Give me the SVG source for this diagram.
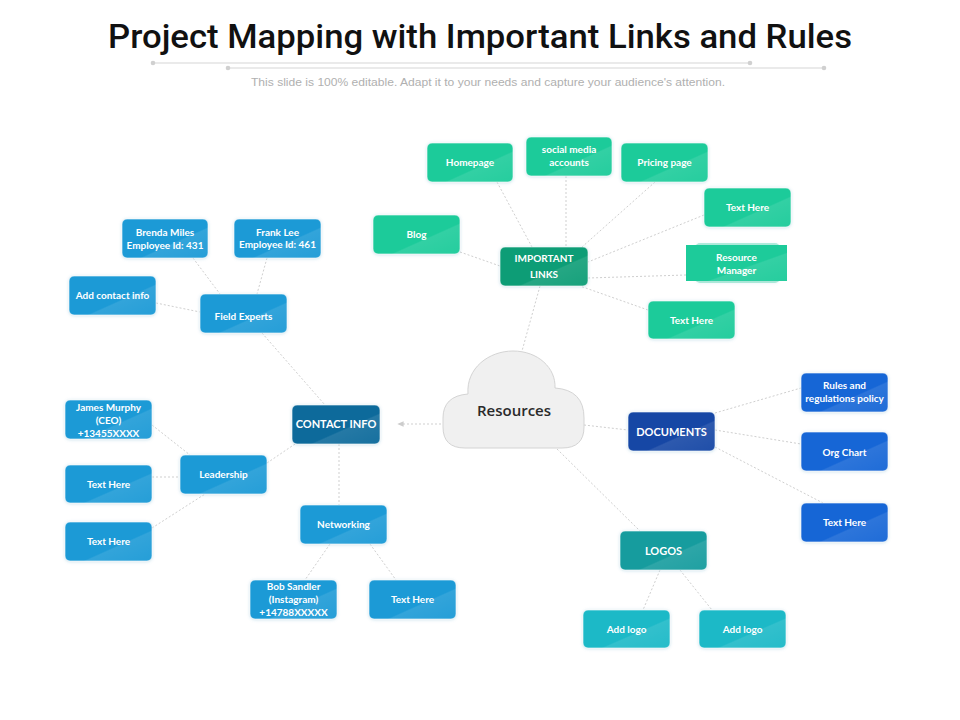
<svg xmlns="http://www.w3.org/2000/svg" width="960" height="720" viewBox="0 0 960 720">
<defs>
<linearGradient id="gloss" x1="0" y1="0" x2="1" y2="1">
<stop offset="0" stop-color="#fff" stop-opacity="0"/>
<stop offset="0.6" stop-color="#fff" stop-opacity="0"/>
<stop offset="0.62" stop-color="#fff" stop-opacity="0.1"/>
<stop offset="1" stop-color="#fff" stop-opacity="0.04"/>
</linearGradient>
<filter id="glow" x="-20%" y="-30%" width="140%" height="160%">
<feDropShadow dx="0" dy="0.5" stdDeviation="1.6" flood-color="#7fb8d0" flood-opacity="0.45"/>
</filter>
<marker id="arr" viewBox="0 0 10 10" refX="8" refY="5" markerWidth="7" markerHeight="7" orient="auto">
<path d="M0,1 L9,5 L0,9 Z" fill="#cccccc"/>
</marker>
<style>
.title{font-family:"Roboto","Liberation Sans",sans-serif;font-weight:500;font-size:34px;fill:#111;}
.sub{font-family:"Liberation Sans",Arial,sans-serif;font-size:11px;fill:#b0b0b0;}
.conn{stroke:#cfcfcf;stroke-width:1;stroke-dasharray:2 2;fill:none;}
.box{filter:url(#glow);stroke:#ffffff;stroke-opacity:0.6;stroke-width:1;}
.gl{fill:url(#gloss);}
.t{font-family:"Lato","Liberation Sans",sans-serif;font-weight:bold;font-size:10px;fill:#fff;text-anchor:middle;}
.tb{font-size:11px;}
.green{fill:#1dcb9a;}
.dgreen{fill:#0f9d76;}
.blue{fill:#1c9ad6;}
.dblue{fill:#0e6b9b;}
.navy{fill:#1347a5;}
.rblue{fill:#1766d6;}
.teal{fill:#149c9e;}
.cyan{fill:#1ab9c7;}
</style>
</defs>
<rect width="960" height="720" fill="#ffffff"/>

<g id="header">
<text class="title" x="480" y="48" text-anchor="middle" textLength="744" lengthAdjust="spacingAndGlyphs">Project Mapping with Important Links and Rules</text>
<line x1="153" y1="63" x2="750" y2="63" stroke="#d6d6d6" stroke-width="1.2"/>
<circle cx="153" cy="63" r="2.3" fill="#d0d0d0"/>
<circle cx="750" cy="63" r="2.3" fill="#d0d0d0"/>
<line x1="228" y1="68" x2="824" y2="68" stroke="#d6d6d6" stroke-width="1.2"/>
<circle cx="228" cy="68" r="2.3" fill="#d0d0d0"/>
<circle cx="824" cy="68" r="2.3" fill="#d0d0d0"/>
<text class="sub" x="488" y="86" text-anchor="middle" textLength="474" lengthAdjust="spacingAndGlyphs">This slide is 100% editable. Adapt it to your needs and capture your audience's attention.</text>
</g>

<g id="connectors">
<line class="conn" x1="497" y1="182" x2="532" y2="247"/>
<line class="conn" x1="566" y1="176" x2="566" y2="247"/>
<line class="conn" x1="655" y1="182" x2="582" y2="247"/>
<line class="conn" x1="704" y1="215" x2="588" y2="262"/>
<line class="conn" x1="686" y1="275" x2="588" y2="278"/>
<line class="conn" x1="648" y1="310" x2="580" y2="286"/>
<line class="conn" x1="460" y1="252" x2="500" y2="266"/>
<line class="conn" x1="540" y1="286" x2="522" y2="351"/>
<line class="conn" x1="193" y1="258" x2="220" y2="294"/>
<line class="conn" x1="267" y1="258" x2="257" y2="294"/>
<line class="conn" x1="156" y1="303" x2="200" y2="312"/>
<line class="conn" x1="262" y1="333" x2="325" y2="405"/>
<line class="conn" x1="152" y1="425" x2="190" y2="455"/>
<line class="conn" x1="152" y1="477" x2="180" y2="477"/>
<line class="conn" x1="152" y1="528" x2="205" y2="494"/>
<line class="conn" x1="267" y1="463" x2="295" y2="444"/>
<line class="conn" x1="339" y1="444" x2="339" y2="505"/>
<line class="conn" x1="330" y1="544" x2="305" y2="580"/>
<line class="conn" x1="370" y1="544" x2="396" y2="580"/>
<line class="conn" x1="445" y1="424" x2="398" y2="424" marker-end="url(#arr)"/>
<line class="conn" x1="584" y1="425" x2="628" y2="430"/>
<line class="conn" x1="715" y1="413" x2="801" y2="388"/>
<line class="conn" x1="715" y1="430" x2="801" y2="444"/>
<line class="conn" x1="715" y1="447" x2="823" y2="503"/>
<line class="conn" x1="557" y1="449" x2="640" y2="531"/>
<line class="conn" x1="660" y1="570" x2="643" y2="610"/>
<line class="conn" x1="680" y1="570" x2="712" y2="610"/>
</g>

<g id="resources">
<path d="M465 448 Q443 448 443 427 L443 418 Q443 396 468 394 C466 368 489 351 513 351 C538 351 556 368 555 388 Q584 390 584 418 L584 427 Q584 448 562 448 Z" fill="#f0f0f0" stroke="#d4d4d4" stroke-width="1"/>
<text x="514" y="416" text-anchor="middle" font-family="'Open Sans','Liberation Sans',sans-serif" font-weight="600" font-size="15" fill="#2a2a2a">Resources</text>
</g>

<g id="important-links">
<rect class="box dgreen" x="500" y="247" width="88" height="39" rx="5"/>
<rect class="gl" x="500" y="247" width="88" height="39" rx="5"/>
<text class="t" x="544" y="262" font-size="10.5">IMPORTANT</text>
<text class="t" x="544" y="278" font-size="10.5">LINKS</text>
</g>
<g id="homepage">
<rect class="box green" x="427" y="143" width="86" height="39" rx="5"/>
<rect class="gl" x="427" y="143" width="86" height="39" rx="5"/>
<text class="t" x="470" y="166">Homepage</text>
</g>
<g id="social-media">
<rect class="box green" x="526" y="137" width="86" height="39" rx="5"/>
<rect class="gl" x="526" y="137" width="86" height="39" rx="5"/>
<text class="t" x="569" y="153">social media</text>
<text class="t" x="569" y="166">accounts</text>
</g>
<g id="pricing-page">
<rect class="box green" x="621" y="143" width="87" height="39" rx="5"/>
<rect class="gl" x="621" y="143" width="87" height="39" rx="5"/>
<text class="t" x="664.5" y="166">Pricing page</text>
</g>
<g id="text-here-g1">
<rect class="box green" x="704" y="188" width="87" height="39" rx="5"/>
<rect class="gl" x="704" y="188" width="87" height="39" rx="5"/>
<text class="t" x="747.5" y="211">Text Here</text>
</g>
<g id="blog">
<rect class="box green" x="373" y="215" width="87" height="39" rx="5"/>
<rect class="gl" x="373" y="215" width="87" height="39" rx="5"/>
<text class="t" x="416.5" y="238">Blog</text>
</g>
<g id="resource-manager">
<rect x="695" y="243" width="85" height="40" rx="5" fill="#1dcb9a" fill-opacity="0.35" filter="url(#glow)"/>
<rect class="green" x="686" y="245" width="101" height="36"/>
<rect class="gl" x="686" y="245" width="101" height="36"/>
<text class="t" x="736.5" y="261" font-weight="normal">Resource</text>
<text class="t" x="736.5" y="274" font-weight="normal">Manager</text>
</g>
<g id="text-here-g2">
<rect class="box green" x="648" y="301" width="87" height="38" rx="5"/>
<rect class="gl" x="648" y="301" width="87" height="38" rx="5"/>
<text class="t" x="691.5" y="324">Text Here</text>
</g>

<g id="contact-info">
<rect class="box dblue" x="292" y="405" width="88" height="39" rx="5"/>
<rect class="gl" x="292" y="405" width="88" height="39" rx="5"/>
<text class="t tb" x="336" y="428">CONTACT INFO</text>
</g>
<g id="field-experts">
<rect class="box blue" x="200" y="294" width="87" height="39" rx="5"/>
<rect class="gl" x="200" y="294" width="87" height="39" rx="5"/>
<text class="t" x="243.5" y="320">Field Experts</text>
</g>
<g id="brenda-miles">
<rect class="box blue" x="122" y="219" width="86" height="39" rx="5"/>
<rect class="gl" x="122" y="219" width="86" height="39" rx="5"/>
<text class="t" x="165" y="236">Brenda Miles</text>
<text class="t" x="165" y="248.5">Employee Id: 431</text>
</g>
<g id="frank-lee">
<rect class="box blue" x="234" y="219" width="87" height="39" rx="5"/>
<rect class="gl" x="234" y="219" width="87" height="39" rx="5"/>
<text class="t" x="277.5" y="235.5">Frank Lee</text>
<text class="t" x="277.5" y="248">Employee Id: 461</text>
</g>
<g id="add-contact-info">
<rect class="box blue" x="69" y="276" width="87" height="39" rx="5"/>
<rect class="gl" x="69" y="276" width="87" height="39" rx="5"/>
<text class="t" x="112.5" y="299">Add contact info</text>
</g>
<g id="leadership">
<rect class="box blue" x="180" y="455" width="87" height="39" rx="5"/>
<rect class="gl" x="180" y="455" width="87" height="39" rx="5"/>
<text class="t" x="223.5" y="478">Leadership</text>
</g>
<g id="james-murphy">
<rect class="box blue" x="65" y="400" width="87" height="39" rx="5"/>
<rect class="gl" x="65" y="400" width="87" height="39" rx="5"/>
<text class="t" x="108.5" y="410.5">James Murphy</text>
<text class="t" x="108.5" y="423.5">(CEO)</text>
<text class="t" x="108.5" y="436.5">+13455XXXX</text>
</g>
<g id="text-here-l1">
<rect class="box blue" x="65" y="465" width="87" height="38" rx="5"/>
<rect class="gl" x="65" y="465" width="87" height="38" rx="5"/>
<text class="t" x="108.5" y="487.5">Text Here</text>
</g>
<g id="text-here-l2">
<rect class="box blue" x="65" y="522" width="87" height="39" rx="5"/>
<rect class="gl" x="65" y="522" width="87" height="39" rx="5"/>
<text class="t" x="108.5" y="545">Text Here</text>
</g>
<g id="networking">
<rect class="box blue" x="300" y="505" width="87" height="39" rx="5"/>
<rect class="gl" x="300" y="505" width="87" height="39" rx="5"/>
<text class="t" x="343.5" y="528">Networking</text>
</g>
<g id="bob-sandler">
<rect class="box blue" x="250" y="580" width="87" height="39" rx="5"/>
<rect class="gl" x="250" y="580" width="87" height="39" rx="5"/>
<text class="t" x="293.5" y="590">Bob Sandler</text>
<text class="t" x="293.5" y="603">(Instagram)</text>
<text class="t" x="293.5" y="616">+14788XXXXX</text>
</g>
<g id="text-here-b">
<rect class="box blue" x="369" y="580" width="87" height="39" rx="5"/>
<rect class="gl" x="369" y="580" width="87" height="39" rx="5"/>
<text class="t" x="412.5" y="603">Text Here</text>
</g>

<g id="documents">
<rect class="box navy" x="628" y="412" width="87" height="39" rx="5"/>
<rect class="gl" x="628" y="412" width="87" height="39" rx="5"/>
<text class="t tb" x="671.5" y="436">DOCUMENTS</text>
</g>
<g id="rules-policy">
<rect class="box rblue" x="801" y="373" width="87" height="39" rx="5"/>
<rect class="gl" x="801" y="373" width="87" height="39" rx="5"/>
<text class="t" x="844.5" y="389">Rules and</text>
<text class="t" x="844.5" y="402" font-size="9.5">regulations policy</text>
</g>
<g id="org-chart">
<rect class="box rblue" x="801" y="432" width="87" height="39" rx="5"/>
<rect class="gl" x="801" y="432" width="87" height="39" rx="5"/>
<text class="t" x="844.5" y="456">Org Chart</text>
</g>
<g id="text-here-r">
<rect class="box rblue" x="801" y="503" width="87" height="39" rx="5"/>
<rect class="gl" x="801" y="503" width="87" height="39" rx="5"/>
<text class="t" x="844.5" y="526">Text Here</text>
</g>

<g id="logos">
<rect class="box teal" x="620" y="531" width="87" height="39" rx="5"/>
<rect class="gl" x="620" y="531" width="87" height="39" rx="5"/>
<text class="t tb" x="663.5" y="554.5">LOGOS</text>
</g>
<g id="add-logo-1">
<rect class="box cyan" x="583" y="610" width="87" height="38" rx="5"/>
<rect class="gl" x="583" y="610" width="87" height="38" rx="5"/>
<text class="t" x="626.5" y="633">Add logo</text>
</g>
<g id="add-logo-2">
<rect class="box cyan" x="699" y="610" width="87" height="38" rx="5"/>
<rect class="gl" x="699" y="610" width="87" height="38" rx="5"/>
<text class="t" x="742.5" y="633">Add logo</text>
</g>
</svg>
